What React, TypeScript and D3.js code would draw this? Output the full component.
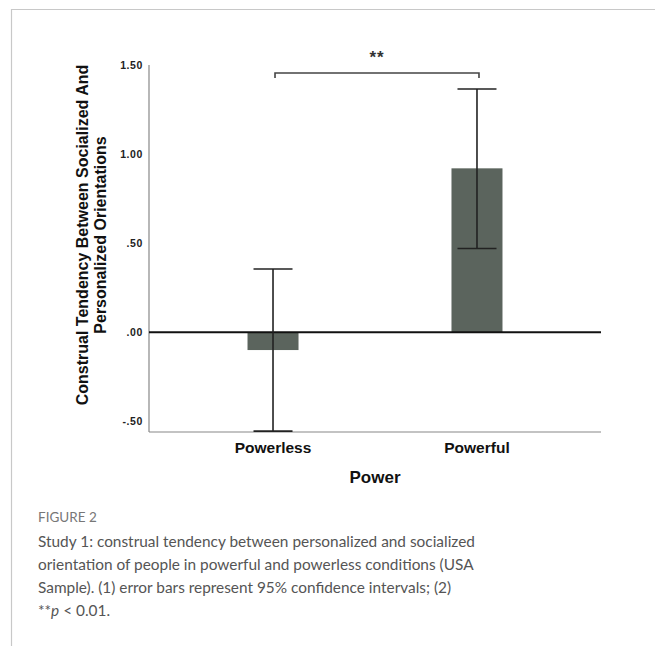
import { useEffect, useRef } from "react";
import * as d3 from "d3";

const categories = ["Powerless", "Powerful"];
const means = [-0.1, 0.92];
const ciLow = [-0.555, 0.47];
const ciHigh = [0.355, 1.365];
const yTicks = [-0.5, 0, 0.5, 1.0, 1.5];

const captionLines = [
  "Study 1: construal tendency between personalized and socialized",
  "orientation of people in powerful and powerless conditions (USA",
  "Sample). (1) error bars represent 95% confidence intervals; (2)",
];

const W = 655, H = 646;
const ARIAL = "'Liberation Sans', Arial, sans-serif";
const CAPTION_FONT = "Lato, 'Open Sans', sans-serif";

// SPSS style labels: .50, -.50, 1.00
const fmt = (v: number) => {
  const s = v.toFixed(2);
  return s.replace(/^(-?)0\./, "$1.");
};

export default function App() {
  const svgRef = useRef<SVGSVGElement>(null);

  useEffect(() => {
    if (!svgRef.current) return;
    const svg = d3.select(svgRef.current);
    svg.selectAll("*").remove();

    // frame
    svg.append("path")
      .attr("d", `M11.5,${H} V9.5 H${W}`)
      .attr("fill", "none")
      .attr("stroke", "#c8c8c8")
      .attr("stroke-width", 1.2);

    const left = 149, right = 601;
    const y = d3.scaleLinear().domain([-0.56, 1.5]).range([432, 65]);
    const x = d3.scalePoint<string>().domain(categories).range([left, right]).padding(0.608);
    const barW = 51, capW = 39;

    // y axis line
    svg.append("line")
      .attr("x1", left).attr("x2", left)
      .attr("y1", y(1.5)).attr("y2", y(-0.56))
      .attr("stroke", "#888").attr("stroke-width", 1.2);
    // bottom axis
    svg.append("line")
      .attr("x1", left).attr("x2", right)
      .attr("y1", y(-0.56)).attr("y2", y(-0.56))
      .attr("stroke", "#888").attr("stroke-width", 1.2);

    // tick labels
    svg.append("g").selectAll("text")
      .data(yTicks)
      .join("text")
      .attr("x", 143)
      .attr("y", (d) => y(d))
      .attr("dy", "0.35em")
      .attr("text-anchor", "end")
      .attr("font-family", ARIAL)
      .attr("font-weight", "bold")
      .attr("font-size", 10.5)
      .attr("letter-spacing", 0.6)
      .attr("fill", "#222")
      .text((d) => fmt(d));

    // bars
    svg.append("g").selectAll("rect")
      .data(categories)
      .join("rect")
      .attr("x", (d) => (x(d) as number) - barW / 2)
      .attr("width", barW)
      .attr("y", (_, i) => Math.min(y(means[i]), y(0)))
      .attr("height", (_, i) => Math.abs(y(means[i]) - y(0)))
      .attr("fill", "#5b645d");

    // zero line
    svg.append("line")
      .attr("x1", left).attr("x2", right)
      .attr("y1", y(0)).attr("y2", y(0))
      .attr("stroke", "#111").attr("stroke-width", 2);

    // error bars
    const eb = svg.append("g").attr("stroke", "#222").attr("stroke-width", 1.6);
    categories.forEach((c, i) => {
      const cx = x(c) as number;
      eb.append("line").attr("x1", cx).attr("x2", cx).attr("y1", y(ciLow[i])).attr("y2", y(ciHigh[i]));
      eb.append("line").attr("x1", cx - capW / 2).attr("x2", cx + capW / 2).attr("y1", y(ciLow[i])).attr("y2", y(ciLow[i]));
      eb.append("line").attr("x1", cx - capW / 2).attr("x2", cx + capW / 2).attr("y1", y(ciHigh[i])).attr("y2", y(ciHigh[i]));
    });

    // significance bracket
    const bx1 = (x(categories[0]) as number) + 2, bx2 = (x(categories[1]) as number) + 2;
    svg.append("path")
      .attr("d", `M${bx1},78 V73 H${bx2} V78`)
      .attr("fill", "none")
      .attr("stroke", "#444")
      .attr("stroke-width", 1.6);
    svg.append("text")
      .attr("x", (bx1 + bx2) / 2)
      .attr("y", 63)
      .attr("text-anchor", "middle")
      .attr("font-family", ARIAL)
      .attr("font-weight", "bold")
      .attr("font-size", 17)
      .attr("letter-spacing", 1)
      .attr("fill", "#333")
      .text("**");

    // x labels
    svg.append("g").selectAll("text")
      .data(categories)
      .join("text")
      .attr("x", (d) => x(d) as number)
      .attr("y", 453)
      .attr("text-anchor", "middle")
      .attr("font-family", ARIAL)
      .attr("font-weight", "bold")
      .attr("font-size", 15.5)
      .attr("fill", "#111")
      .text((d) => d);

    svg.append("text")
      .attr("x", (left + right) / 2)
      .attr("y", 483)
      .attr("text-anchor", "middle")
      .attr("font-family", ARIAL)
      .attr("font-weight", "bold")
      .attr("font-size", 17)
      .attr("fill", "#111")
      .text("Power");

    // y title
    const yt = svg.append("text")
      .attr("transform", "translate(0,235) rotate(-90)")
      .attr("text-anchor", "middle")
      .attr("font-family", ARIAL)
      .attr("font-weight", "bold")
      .attr("font-size", 16)
      .attr("fill", "#111");
    yt.append("tspan").attr("x", 0).attr("y", 88).text("Construal Tendency Between Socialized And");
    yt.append("tspan").attr("x", 0).attr("y", 106).text("Personalized Orientations");

    // caption
    svg.append("text")
      .attr("x", 38).attr("y", 522)
      .attr("font-family", CAPTION_FONT)
      .attr("font-size", 13.5)
      .attr("fill", "#777")
      .text("FIGURE 2");

    svg.append("g").selectAll("text")
      .data(captionLines)
      .join("text")
      .attr("x", 38)
      .attr("y", (_, i) => 547 + i * 23)
      .attr("font-family", CAPTION_FONT)
      .attr("font-size", 15.4)
      .attr("fill", "#555")
      .text((d) => d);

    const last = svg.append("text")
      .attr("x", 38).attr("y", 547 + 3 * 23)
      .attr("font-family", CAPTION_FONT)
      .attr("font-size", 15.4)
      .attr("fill", "#555");
    last.append("tspan").text("**");
    last.append("tspan").attr("font-style", "italic").text("p");
    last.append("tspan").text(" < 0.01.");
  }, []);

  return (
    <svg
      ref={svgRef}
      width={W}
      height={H}
      style={{ position: "absolute", left: 0, top: 0, background: "#fff" }}
    />
  );
}
